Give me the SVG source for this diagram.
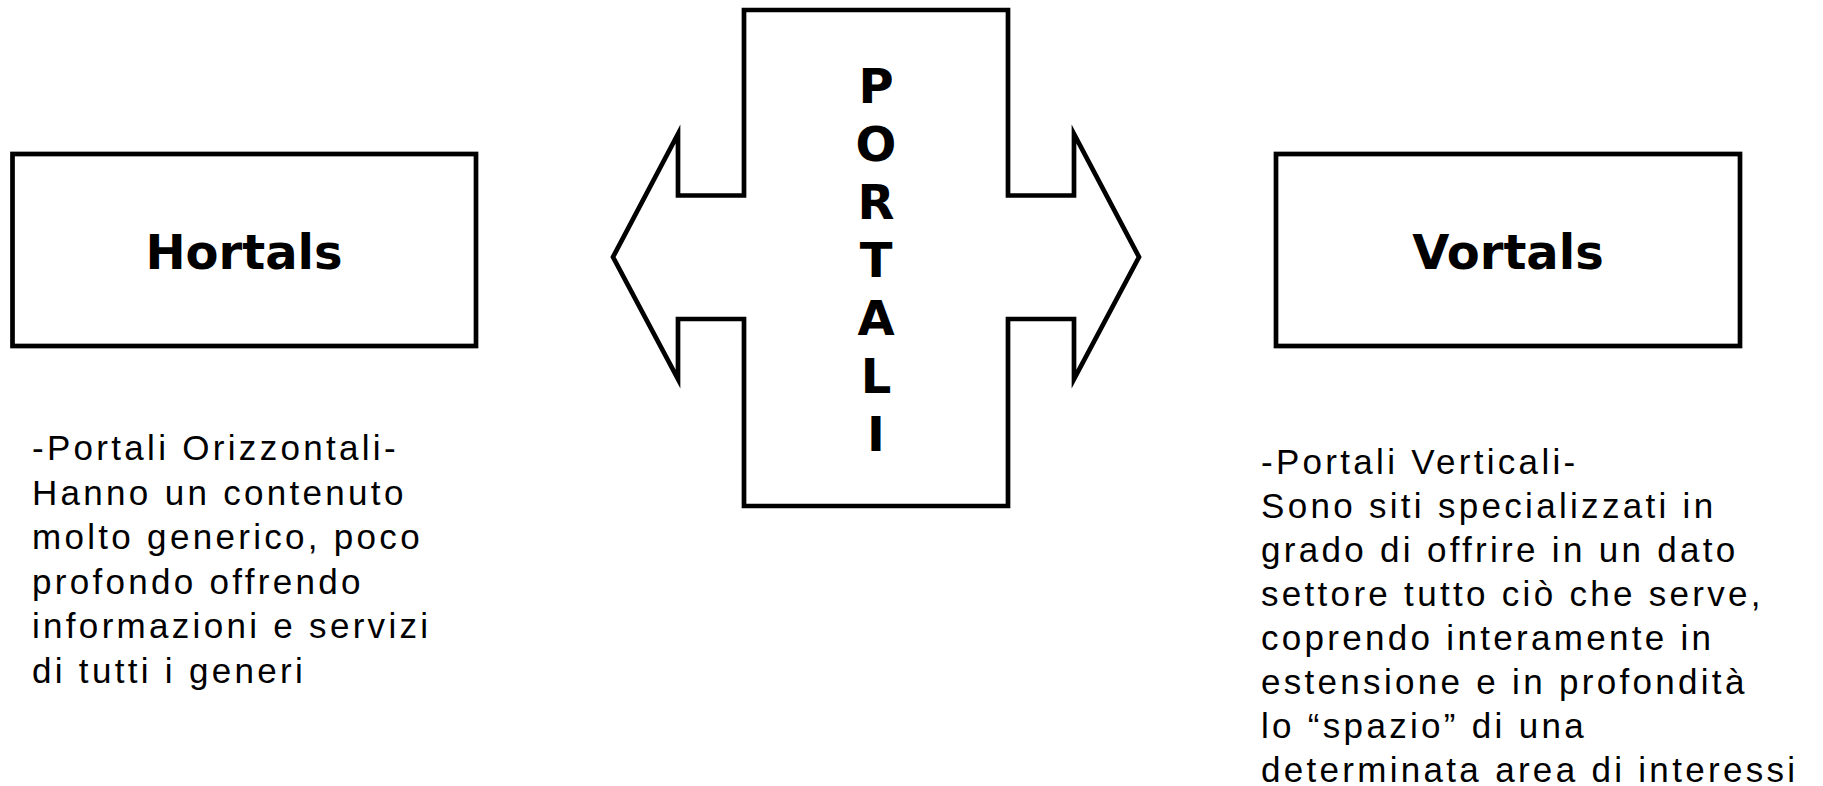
<svg xmlns="http://www.w3.org/2000/svg" width="1823" height="786" viewBox="0 0 1823 786">
  <style>
    .box { fill: #ffffff; stroke: #000000; stroke-width: 4.7; }
    .cross { fill: #ffffff; stroke: #000000; stroke-width: 4.7; stroke-linejoin: miter; stroke-miterlimit: 10; }
    .title { font-family: "DejaVu Sans", Verdana, sans-serif; font-weight: bold; font-size: 48px; fill: #000000; text-anchor: middle; }
    .letter { font-family: "DejaVu Sans", Verdana, sans-serif; font-weight: bold; font-size: 48px; fill: #000000; text-anchor: middle; }
    .desc { font-family: "Liberation Sans", Arial, sans-serif; font-size: 35px; letter-spacing: 3.3px; fill: #000000; }
  </style>
  <rect width="1823" height="786" fill="#ffffff"/>

  <!-- central double-headed cross: PORTALI -->
  <g id="portali">
    <polygon class="cross" points="744,10 1008,10 1008,195.5 1074,195.5 1074,134 1139,257 1074,379 1074,319 1008,319 1008,506 744,506 744,319 678,319 678,379 613,257 678,134 678,195.5 744,195.5"/>
    <text class="letter" x="876" y="103">P</text>
    <text class="letter" x="876" y="161">O</text>
    <text class="letter" x="876" y="219">R</text>
    <text class="letter" x="876" y="277">T</text>
    <text class="letter" x="876" y="335">A</text>
    <text class="letter" x="876" y="393">L</text>
    <text class="letter" x="876" y="451">I</text>
  </g>

  <!-- left box: Hortals -->
  <g id="hortals">
    <rect class="box" x="12.5" y="154" width="463.5" height="192"/>
    <text class="title" x="244" y="269">Hortals</text>
  </g>

  <!-- right box: Vortals -->
  <g id="vortals">
    <rect class="box" x="1276" y="154" width="464" height="192"/>
    <text class="title" x="1508" y="269">Vortals</text>
  </g>

  <!-- description under Hortals -->
  <g id="hortals-desc">
    <text class="desc" x="32" y="460">-Portali Orizzontali-</text>
    <text class="desc" x="32" y="504.5">Hanno un contenuto</text>
    <text class="desc" x="32" y="549">molto generico, poco</text>
    <text class="desc" x="32" y="593.5">profondo offrendo</text>
    <text class="desc" x="32" y="638">informazioni e servizi</text>
    <text class="desc" x="32" y="682.5">di tutti i generi</text>
  </g>

  <!-- description under Vortals -->
  <g id="vortals-desc">
    <text class="desc" x="1261" y="474">-Portali Verticali-</text>
    <text class="desc" x="1261" y="518">Sono siti specializzati in</text>
    <text class="desc" x="1261" y="562">grado di offrire in un dato</text>
    <text class="desc" x="1261" y="606">settore tutto ciò che serve,</text>
    <text class="desc" x="1261" y="650">coprendo interamente in</text>
    <text class="desc" x="1261" y="694">estensione e in profondità</text>
    <text class="desc" x="1261" y="738">lo “spazio” di una</text>
    <text class="desc" x="1261" y="782">determinata area di interessi</text>
  </g>

  <!-- no connectors in this drawing -->
  <g id="connectors"/>
</svg>
